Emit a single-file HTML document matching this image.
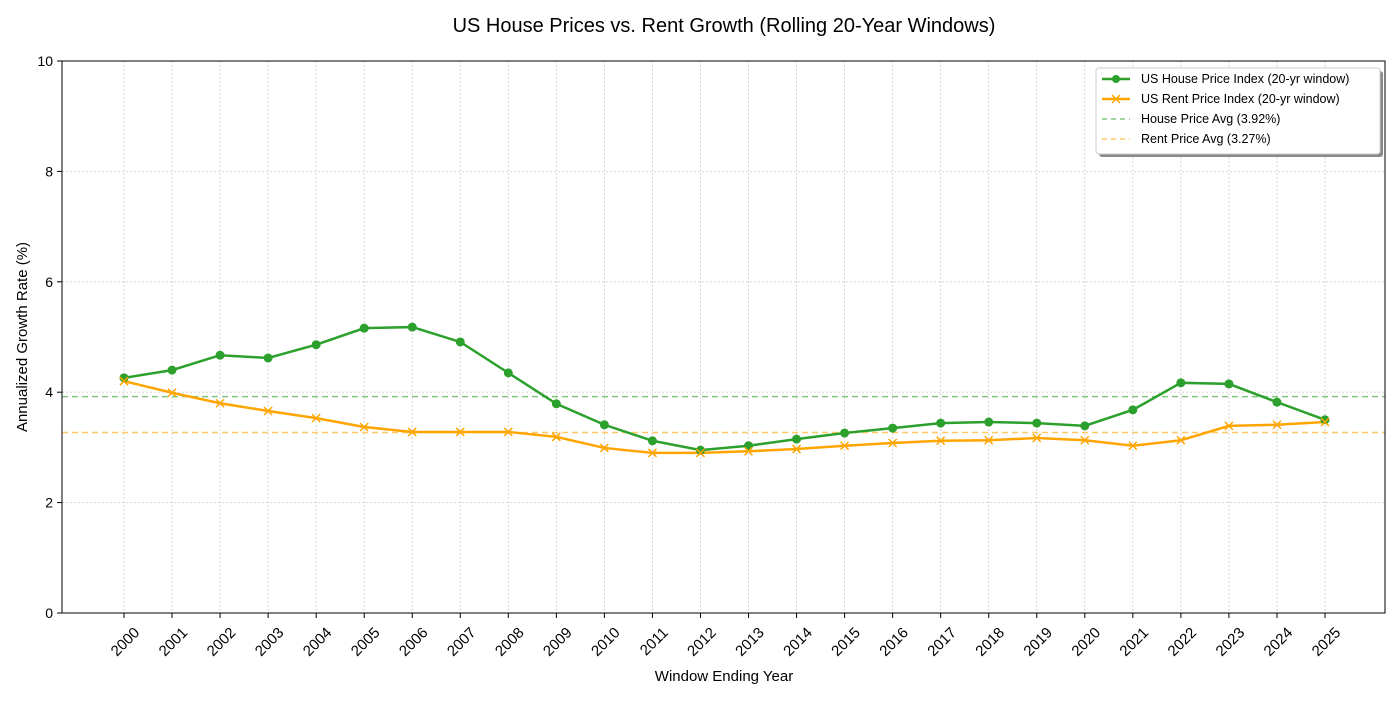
<!DOCTYPE html>
<html><head><meta charset="utf-8"><style>
body{margin:0;background:#fff;font-family:"Liberation Sans",sans-serif;}
svg text{font-family:"Liberation Sans",sans-serif;fill:#000;}
</style></head><body>
<svg id="chart" width="1400" height="700" xmlns="http://www.w3.org/2000/svg">
<text x="724" y="32" font-size="20" text-anchor="middle">US House Prices vs. Rent Growth (Rolling 20-Year Windows)</text>
<g id="grid"></g>
<g id="axes"></g>
<g id="series"></g>
<rect x="62" y="61" width="1323" height="552" fill="none" stroke="#000" stroke-width="1"/>
<text x="724" y="681" font-size="15" text-anchor="middle">Window Ending Year</text>
<text transform="translate(27,337) rotate(-90)" font-size="15" text-anchor="middle">Annualized Growth Rate (%)</text>
<g>
<rect x="1099" y="71" width="284" height="86" rx="3" fill="#888"/>
<rect x="1096" y="68" width="284" height="86" rx="3" fill="#fff" stroke="#ccc"/>
<line x1="1102" y1="79" x2="1130" y2="79" stroke="#2ca02c" stroke-width="2.5"/><circle cx="1116" cy="79" r="4" fill="#2ca02c"/>
<text x="1141" y="83" font-size="12.5">US House Price Index (20-yr window)</text>
<line x1="1102" y1="99" x2="1130" y2="99" stroke="#ffa500" stroke-width="2.5"/><path d="M1112,95l8,8M1120,95l-8,8" stroke="#ffa500" stroke-width="1.5"/>
<text x="1141" y="103" font-size="12.5">US Rent Price Index (20-yr window)</text>
<line x1="1102" y1="119" x2="1130" y2="119" stroke="#2ca02c" stroke-opacity="0.6" stroke-width="1.5" stroke-dasharray="5,4"/>
<text x="1141" y="123" font-size="12.5">House Price Avg (3.92%)</text>
<line x1="1102" y1="139" x2="1130" y2="139" stroke="#ffa500" stroke-opacity="0.6" stroke-width="1.5" stroke-dasharray="5,4"/>
<text x="1141" y="143" font-size="12.5">Rent Price Avg (3.27%)</text>
</g>
</svg>
<script>
const years=[2000,2001,2002,2003,2004,2005,2006,2007,2008,2009,2010,2011,2012,2013,2014,2015,2016,2017,2018,2019,2020,2021,2022,2023,2024,2025];
const house=[4.26,4.40,4.67,4.62,4.86,5.16,5.18,4.91,4.35,3.79,3.41,3.12,2.95,3.03,3.15,3.26,3.35,3.44,3.46,3.44,3.39,3.68,4.17,4.15,3.82,3.50];
const rent=[4.20,3.99,3.80,3.66,3.53,3.37,3.28,3.28,3.28,3.19,2.99,2.90,2.90,2.93,2.97,3.03,3.08,3.12,3.13,3.17,3.13,3.03,3.13,3.39,3.41,3.46];
const yTicks=[0,2,4,6,8,10];
const houseAvg=3.92, rentAvg=3.27;
const NS="http://www.w3.org/2000/svg";
const X=y=>124+(y-2000)*(1325-124)/25;
const Y=v=>613-v*55.2;
function mk(t,a,p){const e=document.createElementNS(NS,t);for(const k in a)e.setAttribute(k,a[k]);p.appendChild(e);return e;}
const grid=document.getElementById('grid'),axes=document.getElementById('axes'),ser=document.getElementById('series');
yTicks.forEach(v=>{
 const g=mk('line',{x1:62,x2:1385,y1:Y(v),y2:Y(v),stroke:'#ccc','stroke-dasharray':'2,2','stroke-width':0.8},grid);
 
 
 mk('line',{x1:57,x2:62,y1:Y(v),y2:Y(v),stroke:'#000'},axes);
 const t=mk('text',{x:53,y:Y(v)+5,'font-size':14,'text-anchor':'end'},axes);t.textContent=v;
 
 
});
years.forEach(yr=>{
 const g=mk('line',{x1:X(yr),x2:X(yr),y1:61,y2:613,stroke:'#ccc','stroke-dasharray':'2,2','stroke-width':0.8},grid);
 
 
 mk('line',{x1:X(yr),x2:X(yr),y1:613,y2:618,stroke:'#000'},axes);
 const t=mk('text',{transform:`translate(${X(yr)+9},${626}) rotate(-45)`,'font-size':15,'text-anchor':'end',dy:'0.7em'},axes);t.textContent=yr;
 
 
});
const ha=mk('line',{x1:62,x2:1385,y1:Y(houseAvg),y2:Y(houseAvg),stroke:'#2ca02c','stroke-opacity':0.6,'stroke-width':1.5,'stroke-dasharray':'6,4'},ser);


const ra=mk('line',{x1:62,x2:1385,y1:Y(rentAvg),y2:Y(rentAvg),stroke:'#ffa500','stroke-opacity':0.6,'stroke-width':1.5,'stroke-dasharray':'6,4'},ser);


const hl=mk('polyline',{points:years.map((y,i)=>X(y)+','+Y(house[i])).join(' '),fill:'none',stroke:'#2ca02c','stroke-width':2.5},ser);


const rl=mk('polyline',{points:years.map((y,i)=>X(y)+','+Y(rent[i])).join(' '),fill:'none',stroke:'#ffa500','stroke-width':2.5},ser);


years.forEach((y,i)=>{
 const c=mk('circle',{cx:X(y),cy:Y(house[i]),r:4.5,fill:'#2ca02c'},ser);
 
 
 const x=X(y),yy=Y(rent[i]);
 const p=mk('path',{d:`M${x-4},${yy-4}L${x+4},${yy+4}M${x+4},${yy-4}L${x-4},${yy+4}`,stroke:'#ffa500','stroke-width':1.5},ser);
 
 
});
</script>
</body></html>
